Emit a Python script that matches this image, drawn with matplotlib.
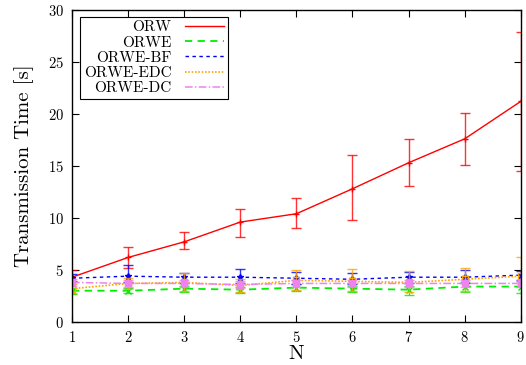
import matplotlib
matplotlib.use("Agg")
import matplotlib.pyplot as plt
from matplotlib.lines import Line2D
import numpy as np

plt.rcParams['font.family'] = ['cmr10', 'DejaVu Serif']
plt.rcParams['axes.formatter.use_mathtext'] = True

N = [1, 2, 3, 4, 5, 6, 7, 8, 9]
labels = ["ORW", "ORWE", "ORWE-BF", "ORWE-EDC", "ORWE-DC"]

orw = [4.3, 6.2, 7.7, 9.6, 10.4, 12.8, 15.3, 17.6, 21.2]
orw_lo = [3.9, 5.2, 7.0, 8.2, 9.0, 9.8, 13.1, 15.1, 14.5]
orw_hi = [5.0, 7.2, 8.6, 10.9, 11.9, 16.0, 17.6, 20.1, 27.9]

orwe = [3.0, 3.0, 3.2, 3.1, 3.3, 3.2, 3.1, 3.4, 3.4]
orwe_lo = [2.7, 2.8, 2.9, 2.8, 3.0, 2.9, 2.6, 2.9, 2.8]
orwe_hi = [3.3, 3.3, 3.5, 3.4, 3.6, 3.5, 3.5, 3.8, 3.9]

bf = [4.2, 4.4, 4.3, 4.3, 4.2, 4.1, 4.3, 4.3, 4.5]
bf_lo = [3.8, 3.8, 3.7, 3.7, 3.6, 3.6, 3.7, 3.7, 4.0]
bf_hi = [4.6, 5.5, 4.7, 5.1, 4.8, 4.7, 4.8, 5.0, 4.9]

edc = [3.2, 3.7, 3.8, 3.5, 4.0, 3.9, 3.8, 4.1, 4.4]
edc_lo = [2.8, 3.2, 3.0, 2.9, 3.1, 3.0, 2.9, 3.0, 3.7]
edc_hi = [3.6, 4.2, 4.7, 4.1, 5.0, 5.1, 4.9, 5.2, 6.2]

dc = [3.8, 3.7, 3.7, 3.6, 3.7, 3.7, 3.7, 3.7, 3.7]
dc_lo = [3.5, 3.4, 3.4, 3.3, 3.4, 3.4, 3.4, 3.4, 3.4]
dc_hi = [4.1, 4.0, 4.0, 3.9, 4.0, 4.0, 4.0, 4.0, 4.0]

series = [(orw, orw_lo, orw_hi), (orwe, orwe_lo, orwe_hi), (bf, bf_lo, bf_hi),
          (edc, edc_lo, edc_hi), (dc, dc_lo, dc_hi)]
colors = ["#ff0000", "#00ee00", "#0000ff", "#ffa500", "#ee82ee"]
styles = ["-", (0, (4, 3)), (0, (2.5, 2.5)), (0, (1, 1)), (0, (5, 1.5, 1, 1.5))]
widths = [1.0, 1.3, 1.0, 1.2, 1.1]
markers = ["+", "x", "*", "s", "s"]
mfill = ["full", "full", "full", "none", "full"]

fig = plt.figure(figsize=(5.26, 3.65), dpi=100)
ax = fig.add_axes([0.137, 0.118, 0.853, 0.855])

x = np.array(N)
handles = []
for (v, lo, hi), c, ls, lw, m, mf, lab in zip(series, colors, styles, widths, markers, mfill, labels):
    v = np.array(v); lo = np.array(lo); hi = np.array(hi)
    ax.errorbar(x, v, yerr=[v - lo, hi - v], fmt='none', ecolor=c, elinewidth=1.0,
                capsize=3.5, capthick=1.0, alpha=0.8)
    ax.plot(x, v, color=c, linestyle=ls, linewidth=lw, marker=m, markersize=4.5,
            fillstyle=mf, markeredgewidth=1.0)
    handles.append(Line2D([], [], color=c, linestyle=ls, linewidth=lw))

ax.set_xlim(1, 9)
ax.set_ylim(0, 30)
ax.set_xticks(N)
ax.set_yticks([0, 5, 10, 15, 20, 25, 30])
ax.tick_params(direction='in', top=True, right=True, length=5, width=0.8,
               labelsize=10.5, pad=6)
for s in ax.spines.values():
    s.set_linewidth(1.0)
ax.set_xlabel("N", fontsize=15, labelpad=0)
ax.set_ylabel("Transmission Time [s]", fontsize=15, labelpad=10)

leg = ax.legend(handles, labels, loc='upper left', bbox_to_anchor=(0.018, 0.978),
                markerfirst=False, fontsize=11, frameon=True, fancybox=False,
                edgecolor='black', framealpha=1, handlelength=2.6,
                borderpad=0.25, labelspacing=0.1, handletextpad=0.85,
                borderaxespad=0)
leg.get_frame().set_linewidth(0.8)

fig.savefig("out.png", dpi=100)
